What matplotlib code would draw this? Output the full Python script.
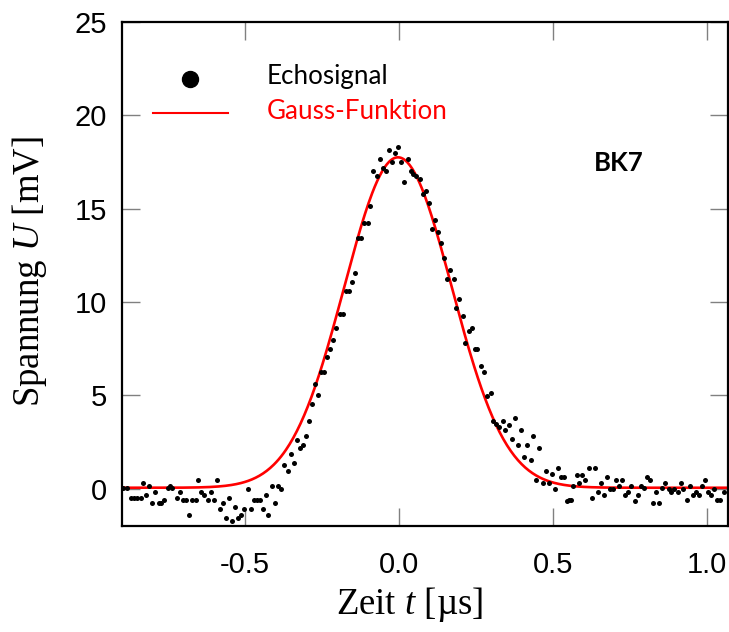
import numpy as np
import matplotlib
matplotlib.use("Agg")
import matplotlib.pyplot as plt
from matplotlib.ticker import FormatStrFormatter

# echo signal (time in us, voltage in mV)
t_echo = [-0.898, -0.885, -0.871, -0.860, -0.850, -0.839, -0.831, -0.822, -0.812, -0.802,
          -0.792, -0.781, -0.773, -0.763, -0.752, -0.744, -0.736, -0.722, -0.712, -0.701,
          -0.692, -0.682, -0.671, -0.660, -0.652, -0.643, -0.632, -0.621, -0.611, -0.602,
          -0.592, -0.582, -0.572, -0.563, -0.552, -0.542, -0.532, -0.523, -0.513, -0.502,
          -0.491, -0.481, -0.471, -0.461, -0.451, -0.442, -0.433, -0.424, -0.411, -0.402,
          -0.392, -0.382, -0.372, -0.361, -0.352, -0.342, -0.332, -0.322, -0.312, -0.302,
          -0.292, -0.281, -0.273, -0.263, -0.253, -0.243, -0.233, -0.223, -0.213, -0.203,
          -0.192, -0.182, -0.171, -0.162, -0.153, -0.143, -0.133, -0.123, -0.114, -0.102,
          -0.093, -0.083, -0.072, -0.063, -0.053, -0.042, -0.032, -0.023, -0.013, -0.002,
          0.006, 0.017, 0.028, 0.038, 0.047, 0.056, 0.067, 0.078, 0.088, 0.097,
          0.107, 0.117, 0.128, 0.137, 0.147, 0.157, 0.167, 0.178, 0.186, 0.197,
          0.207, 0.216, 0.227, 0.237, 0.247, 0.255, 0.267, 0.277, 0.287, 0.298,
          0.306, 0.316, 0.327, 0.337, 0.346, 0.357, 0.367, 0.378, 0.387, 0.397,
          0.407, 0.418, 0.428, 0.437, 0.447, 0.457, 0.468, 0.477, 0.487, 0.497,
          0.506, 0.516, 0.526, 0.537, 0.545, 0.552, 0.560, 0.567, 0.578, 0.587,
          0.596, 0.606, 0.617, 0.627, 0.636, 0.647, 0.657, 0.667, 0.678, 0.687,
          0.697, 0.707, 0.717, 0.726, 0.736, 0.746, 0.756, 0.766, 0.776, 0.786,
          0.797, 0.805, 0.816, 0.826, 0.835, 0.845, 0.856, 0.866, 0.877, 0.886,
          0.895, 0.906, 0.916, 0.925, 0.936, 0.946, 0.956, 0.965, 0.975, 0.985,
          0.996, 1.006, 1.015, 1.025, 1.035, 1.045, 1.058]
u_echo = [0.04, 0.04, -0.48, -0.48, -0.48, -0.48, 0.30, -0.32, 0.16, -0.78,
          -0.20, -0.78, -0.78, -0.60, 0.04, 0.16, 0.04, -0.48, -0.20, -0.60,
          -0.60, -1.43, -0.60, -0.60, 0.46, -0.16, -0.32, -0.60, -0.16, -0.60,
          0.46, -1.09, -0.78, -1.55, -0.48, -1.73, -0.96, -1.55, -1.43, -1.09,
          -0.02, -1.09, -0.60, -0.60, -0.60, -1.09, -0.32, -1.43, 0.14, -0.78,
          0.14, -0.02, 1.25, 0.93, 1.85, 1.39, 2.62, 2.17, 2.32, 2.80,
          3.60, 4.53, 5.63, 5.00, 6.24, 6.24, 7.04, 7.50, 7.97, 8.59,
          9.38, 9.38, 10.60, 10.60, 11.09, 11.57, 13.44, 13.44, 14.22, 14.22,
          15.15, 17.04, 16.74, 17.66, 17.20, 17.04, 18.13, 17.50, 17.97, 18.29,
          17.50, 16.42, 17.68, 17.04, 16.88, 16.74, 16.58, 15.79, 15.94, 15.33,
          13.90, 14.39, 13.76, 13.14, 12.35, 11.25, 11.73, 11.25, 9.70, 10.16,
          9.24, 7.83, 8.45, 8.59, 7.50, 7.50, 6.58, 6.24, 4.97, 5.15,
          3.60, 3.46, 3.28, 3.60, 3.14, 3.42, 2.66, 3.76, 2.34, 3.14,
          1.71, 2.34, 1.55, 2.80, 0.44, 2.17, 0.30, 0.93, 0.30, 0.77,
          -0.02, 1.09, 0.61, 0.61, -0.64, -0.62, -0.62, 0.16, 0.75, 0.30,
          0.75, 0.46, 1.09, -0.48, 1.09, -0.16, 0.30, -0.32, 0.61, -0.02,
          -0.02, 0.46, 0.16, 0.46, -0.32, -0.16, 0.16, -0.64, -0.32, 0.16,
          0.02, 0.61, 0.46, -0.78, -0.16, -0.78, 0.02, 0.30, -0.02, -0.16,
          -0.02, -0.16, 0.30, -0.02, -0.62, 0.16, -0.32, -0.16, -0.32, 0.16,
          0.46, -0.16, -0.32, -0.02, -0.62, -0.62, -0.16]

# Gauss fit parameters estimated from the red curve
amp = 17.7      # mV
t0 = -0.003     # us
sigma = 0.175   # us
offset = 0.05   # mV

x_ticks = [-0.5, 0.0, 0.5, 1.0]
y_ticks = [0, 5, 10, 15, 20, 25]

plt.rcParams['axes.unicode_minus'] = False
plt.rcParams['mathtext.fontset'] = 'custom'
plt.rcParams['mathtext.rm'] = 'Liberation Serif'
plt.rcParams['mathtext.it'] = 'Liberation Serif:italic'

fig = plt.figure(figsize=(7.29, 6.32), dpi=100)
ax = fig.add_axes([0.1674, 0.1677, 0.8313, 0.7975])

t_fit = np.linspace(-0.9, 1.07, 500)
u_fit = offset + amp * np.exp(-(t_fit - t0) ** 2 / (2 * sigma ** 2))

ax.plot(t_fit, u_fit, color='red', lw=1.9, zorder=2)
ax.plot(t_echo, u_echo, 'o', color='black', ms=3.6, mew=0, zorder=3)

ax.set_xlim(-0.9, 1.07)
ax.set_ylim(-2, 25)
ax.set_xticks(x_ticks)
ax.set_yticks(y_ticks)
ax.xaxis.set_major_formatter(FormatStrFormatter('%.1f'))

for s in ax.spines.values():
    s.set_linewidth(1.6)
    s.set_color('black')

ax.tick_params(direction='in', length=13, width=1, color='#808080',
               top=True, right=True, labelsize=21)
ax.tick_params(axis='x', pad=18)
ax.tick_params(axis='y', pad=11)
for lab in ax.get_xticklabels() + ax.get_yticklabels():
    lab.set_family('Liberation Sans')

# legend drawn by hand, like in the original figure
ax.plot([0.112], [0.887], 'o', color='black', ms=11.5, transform=ax.transAxes)
ax.plot([0.051, 0.175], [0.819, 0.819], color='red', lw=1.5, transform=ax.transAxes)
ax.text(0.239, 0.891, 'Echosignal', transform=ax.transAxes, va='center',
        fontsize=18.7, family='Lato', color='black')
ax.text(0.239, 0.823, 'Gauss-Funktion', transform=ax.transAxes, va='center',
        fontsize=18.7, family='Lato', color='red')
ax.text(0.778, 0.720, 'BK7', transform=ax.transAxes, va='center',
        fontsize=18.5, family='Lato', weight='bold')

fig.text(409.5 / 729, 1 - 605 / 632, 'Zeit $t$ [µs]', ha='center', va='center',
         fontsize=26.5, family='Liberation Serif')
fig.text(30 / 729, 1 - 272 / 632, 'Spannung $U$ [mV]', ha='center', va='center',
         rotation=90, fontsize=26.5, family='Liberation Serif')

fig.savefig('out.png', dpi=100)
